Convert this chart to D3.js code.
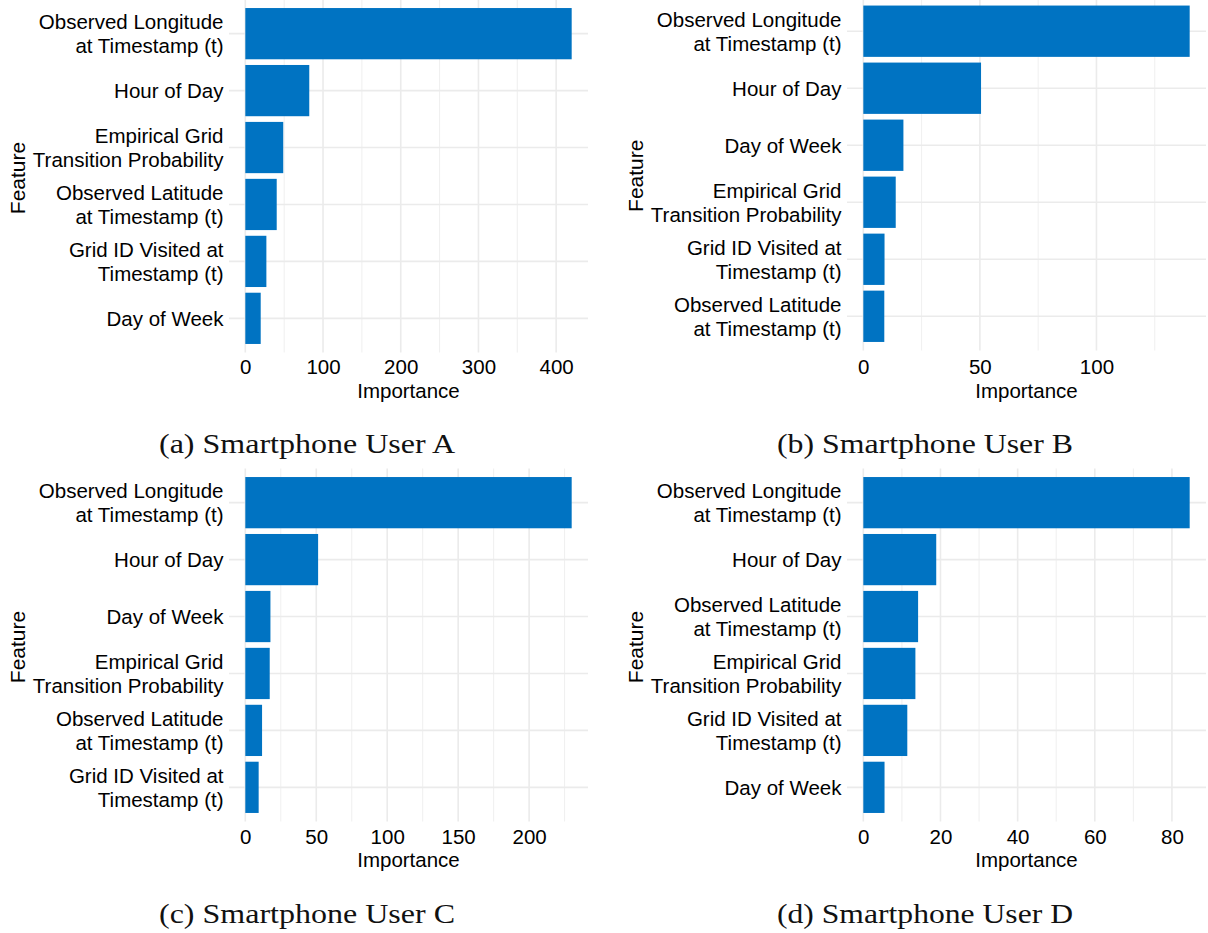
<!DOCTYPE html>
<html>
<head>
<meta charset="utf-8">
<script src="https://cdn.jsdelivr.net/npm/d3@7"></script>
<style>
  html, body { margin: 0; padding: 0; background: #fff; }
  svg { display: block; }
  text { font-family: "Liberation Sans", Arial, sans-serif; }
</style>
</head>
<body>
<svg id="chart" width="1208" height="933"></svg>
<script>
// Feature importance per smartphone user (top to bottom order as plotted)
const featuresA = [
  "Observed Longitude\nat Timestamp (t)", "Hour of Day",
  "Empirical Grid\nTransition Probability", "Observed Latitude\nat Timestamp (t)",
  "Grid ID Visited at\nTimestamp (t)", "Day of Week"
];
const importanceA = [420, 82.3, 48.8, 40.4, 27.1, 19.8];

const featuresB = [
  "Observed Longitude\nat Timestamp (t)", "Hour of Day", "Day of Week",
  "Empirical Grid\nTransition Probability", "Grid ID Visited at\nTimestamp (t)",
  "Observed Latitude\nat Timestamp (t)"
];
const importanceB = [140, 50.5, 17.2, 13.9, 9.1, 9.0];

const featuresC = [
  "Observed Longitude\nat Timestamp (t)", "Hour of Day", "Day of Week",
  "Empirical Grid\nTransition Probability", "Observed Latitude\nat Timestamp (t)",
  "Grid ID Visited at\nTimestamp (t)"
];
const importanceC = [230, 51.3, 17.7, 17.2, 11.8, 9.4];

const featuresD = [
  "Observed Longitude\nat Timestamp (t)", "Hour of Day",
  "Observed Latitude\nat Timestamp (t)", "Empirical Grid\nTransition Probability",
  "Grid ID Visited at\nTimestamp (t)", "Day of Week"
];
const importanceD = [84.6, 18.9, 14.2, 13.5, 11.4, 5.5];

const majorTicksA = [0, 100, 200, 300, 400];
const minorTicksA = [50, 150, 250, 350];
const majorTicksB = [0, 50, 100];
const minorTicksB = [25, 75, 125];
const majorTicksC = [0, 50, 100, 150, 200];
const minorTicksC = [25, 75, 125, 175, 225];
const majorTicksD = [0, 20, 40, 60, 80];
const minorTicksD = [10, 30, 50, 70];

const captions = [
  "(a) Smartphone User A", "(b) Smartphone User B",
  "(c) Smartphone User C", "(d) Smartphone User D"
];

const xTitle = "Importance";
const yTitle = "Feature";

// Layout of the four panels
const panels = [
  { features: featuresA, values: importanceA, major: majorTicksA, minor: minorTicksA,
    caption: captions[0], left: 229, right: 588, top: -0.5, bottom: 352.5, textY: 0, dx: 0 },
  { features: featuresB, values: importanceB, major: majorTicksB, minor: minorTicksB,
    caption: captions[1], left: 847, right: 1206, top: -3, bottom: 350.5, textY: 0, dx: 618 },
  { features: featuresC, values: importanceC, major: majorTicksC, minor: minorTicksC,
    caption: captions[2], left: 229, right: 588, top: 468.5, bottom: 821.5, textY: 469.5, dx: 0 },
  { features: featuresD, values: importanceD, major: majorTicksD, minor: minorTicksD,
    caption: captions[3], left: 847, right: 1206, top: 468.5, bottom: 821.5, textY: 469.5, dx: 618 }
];

const barColor = "#0073C2";
const gridColor = "#EBEBEB";
const labelSize = 20.5;
const svg = d3.select("#chart");
svg.append("rect").attr("width", 1208).attr("height", 933).attr("fill", "#fff");

panels.forEach(p => {
  const g = svg.append("g");
  const maxV = d3.max(p.values);
  const x = d3.scaleLinear()
    .domain([-0.05 * maxV, 1.05 * maxV])
    .range([p.left, p.right]);
  const y = d3.scaleBand()
    .domain(p.features)
    .range([p.top, p.bottom])
    .paddingInner(0.1)
    .paddingOuter(0.15);

  // minor and major vertical grid
  g.selectAll("line.minor").data(p.minor).join("line")
    .attr("x1", d => x(d)).attr("x2", d => x(d))
    .attr("y1", p.top).attr("y2", p.bottom)
    .attr("stroke", gridColor).attr("stroke-width", 0.8);
  g.selectAll("line.major").data(p.major).join("line")
    .attr("x1", d => x(d)).attr("x2", d => x(d))
    .attr("y1", p.top).attr("y2", p.bottom)
    .attr("stroke", gridColor).attr("stroke-width", 1.6);
  // horizontal grid at each category
  g.selectAll("line.hgrid").data(p.features).join("line")
    .attr("x1", p.left).attr("x2", p.right)
    .attr("y1", d => y(d) + y.bandwidth() / 2).attr("y2", d => y(d) + y.bandwidth() / 2)
    .attr("stroke", gridColor).attr("stroke-width", 1.6);

  // bars
  g.selectAll("rect.bar").data(p.features.map((f, i) => ({ f, v: p.values[i] }))).join("rect")
    .attr("x", x(0))
    .attr("y", d => y(d.f))
    .attr("width", d => x(d.v) - x(0))
    .attr("height", y.bandwidth())
    .attr("fill", barColor);

  // x axis (tick labels only)
  const xAxis = d3.axisBottom(x).tickValues(p.major).tickSize(0).tickPadding(0)
    .tickFormat(d3.format("d"));
  const axG = g.append("g")
    .attr("transform", `translate(0,${374 + p.textY})`)
    .call(xAxis);
  axG.select(".domain").remove();
  axG.selectAll("text")
    .attr("dy", null).attr("y", 0)
    .attr("font-size", labelSize).attr("fill", "#000")
    .style("font-family", "'Liberation Sans', Arial, sans-serif");

  // y category labels (multi-line)
  const lh = 24;
  p.features.forEach(f => {
    const lines = f.split("\n");
    const cy = y(f) + y.bandwidth() / 2;
    const t = g.append("text")
      .attr("text-anchor", "end")
      .attr("font-size", labelSize)
      .attr("fill", "#000");
    lines.forEach((ln, i) => {
      t.append("tspan")
        .attr("x", p.left - 5.5)
        .attr("y", cy + 7.3 + (i - (lines.length - 1) / 2) * lh)
        .text(ln);
    });
  });

  // axis titles
  g.append("text")
    .attr("x", (p.left + p.right) / 2)
    .attr("y", 397.5 + p.textY)
    .attr("text-anchor", "middle")
    .attr("font-size", labelSize).attr("fill", "#000")
    .text(xTitle);
  const midY = (p.top + p.bottom) / 2 + 2;
  g.append("text")
    .attr("transform", `translate(${25 + p.dx},${midY}) rotate(-90)`)
    .attr("text-anchor", "middle")
    .attr("font-size", 21).attr("fill", "#000")
    .text(yTitle);

  // subfigure caption
  g.append("text")
    .attr("x", 307 + p.dx)
    .attr("y", 453 + p.textY)
    .attr("text-anchor", "middle")
    .attr("font-size", 27)
    .attr("textLength", 296)
    .attr("lengthAdjust", "spacingAndGlyphs")
    .attr("fill", "#111")
    .style("font-family", "'Liberation Serif', 'Times New Roman', serif")
    .text(p.caption);
});
</script>
</body>
</html>
